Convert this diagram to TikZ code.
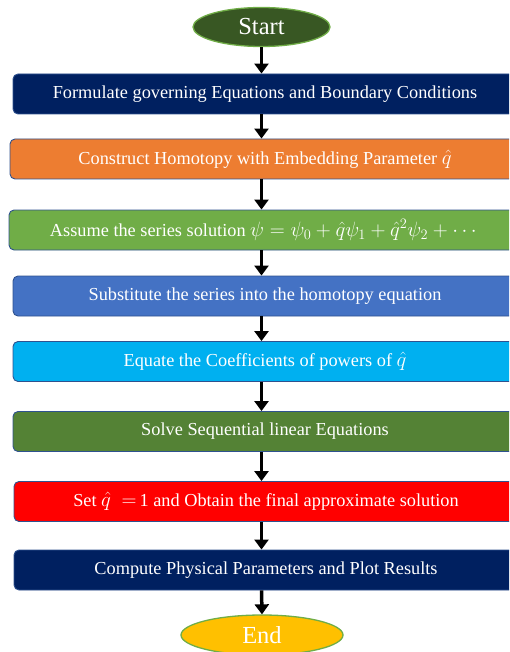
\documentclass[tikz,border=0pt]{standalone}
\usepackage{amsmath}
\usepackage{amssymb}
\usepackage{fontspec}
\setmainfont{Liberation Serif}
\usepackage{tikz}
\usetikzlibrary{shapes.geometric,arrows.meta}

\definecolor{navyblk}{HTML}{002060}
\definecolor{orangeblk}{HTML}{ED7D31}
\definecolor{greenblk}{HTML}{70AD47}
\definecolor{blueblk}{HTML}{4472C4}
\definecolor{cyanblk}{HTML}{00B0F0}
\definecolor{dkgreenblk}{HTML}{548235}
\definecolor{redblk}{HTML}{FF0000}
\definecolor{startfill}{HTML}{385723}
\definecolor{endfill}{HTML}{FFC000}
\definecolor{edgeblue}{HTML}{2F528F}

\newcommand{\boxmath}[1]{{\fontsize{19.4}{21}\selectfont$#1$}}

\tikzset{
    stepbox/.style={draw=edgeblue, line width=0.9pt, rounded corners=5pt,
        minimum width=504pt, minimum height=40pt, inner sep=0pt,
        text=white, font=\fontsize{18.3}{21}\selectfont},
    terminal/.style={ellipse, draw=greenblk, line width=1.3pt, inner sep=0pt,
        minimum height=39pt, text=white, font=\fontsize{24.5}{28}\selectfont},
    flow/.style={-{Triangle[width=14pt,length=10pt]}, line width=3.5pt, black}
}

\begin{document}
\begin{tikzpicture}[x=1pt, y=-1pt]
            \clip (0,0) rectangle (509,652);

            \node[terminal, fill=startfill, minimum width=137pt] (start) at (261.5,27) {Start};

            \node[stepbox, fill=navyblk] (b1) at (265,94) {Formulate governing Equations and Boundary Conditions};
            \node[stepbox, fill=orangeblk, minimum width=510pt] (b2) at (265,159) {Construct Homotopy with Embedding Parameter \boxmath{\hat{q}}};
            \node[stepbox, fill=greenblk, minimum width=512pt] (b3) at (265,230) {Assume the series solution \boxmath{\psi=\psi_0+\hat{q}\psi_1+\hat{q}^{2}\psi_2+\cdots}};
            \node[stepbox, fill=blueblk] (b4) at (265,296) {Substitute the series into the homotopy equation};
            \node[stepbox, fill=cyanblk] (b5) at (265,361.5) {Equate the Coefficients of powers of \boxmath{\hat{q}}};
            \node[stepbox, fill=dkgreenblk] (b6) at (265,431.5) {Solve Sequential linear Equations};
            \node[stepbox, fill=redblk] (b7) at (266,501.5) {Set \boxmath{\hat{q}\ =}\,1 and Obtain the final approximate solution};
            \node[stepbox, fill=navyblk] (b8) at (266,570) {Compute Physical Parameters and Plot Results};

            \node[terminal, fill=endfill, minimum width=162pt, minimum height=40pt] (end) at (262,635) {End};

            % arrows down the chain
            \draw[flow] (start.south) -- (start.south |- b1.north);
            \foreach \a/\b in {b1/b2,b2/b3,b3/b4,b4/b5,b5/b6,b6/b7,b7/b8} {
                \draw[flow] (start.south |- \a.south) -- (start.south |- \b.north);
            }
            \draw[flow] (start.south |- b8.south) -- (end.north);
        \end{tikzpicture}
\end{document}
